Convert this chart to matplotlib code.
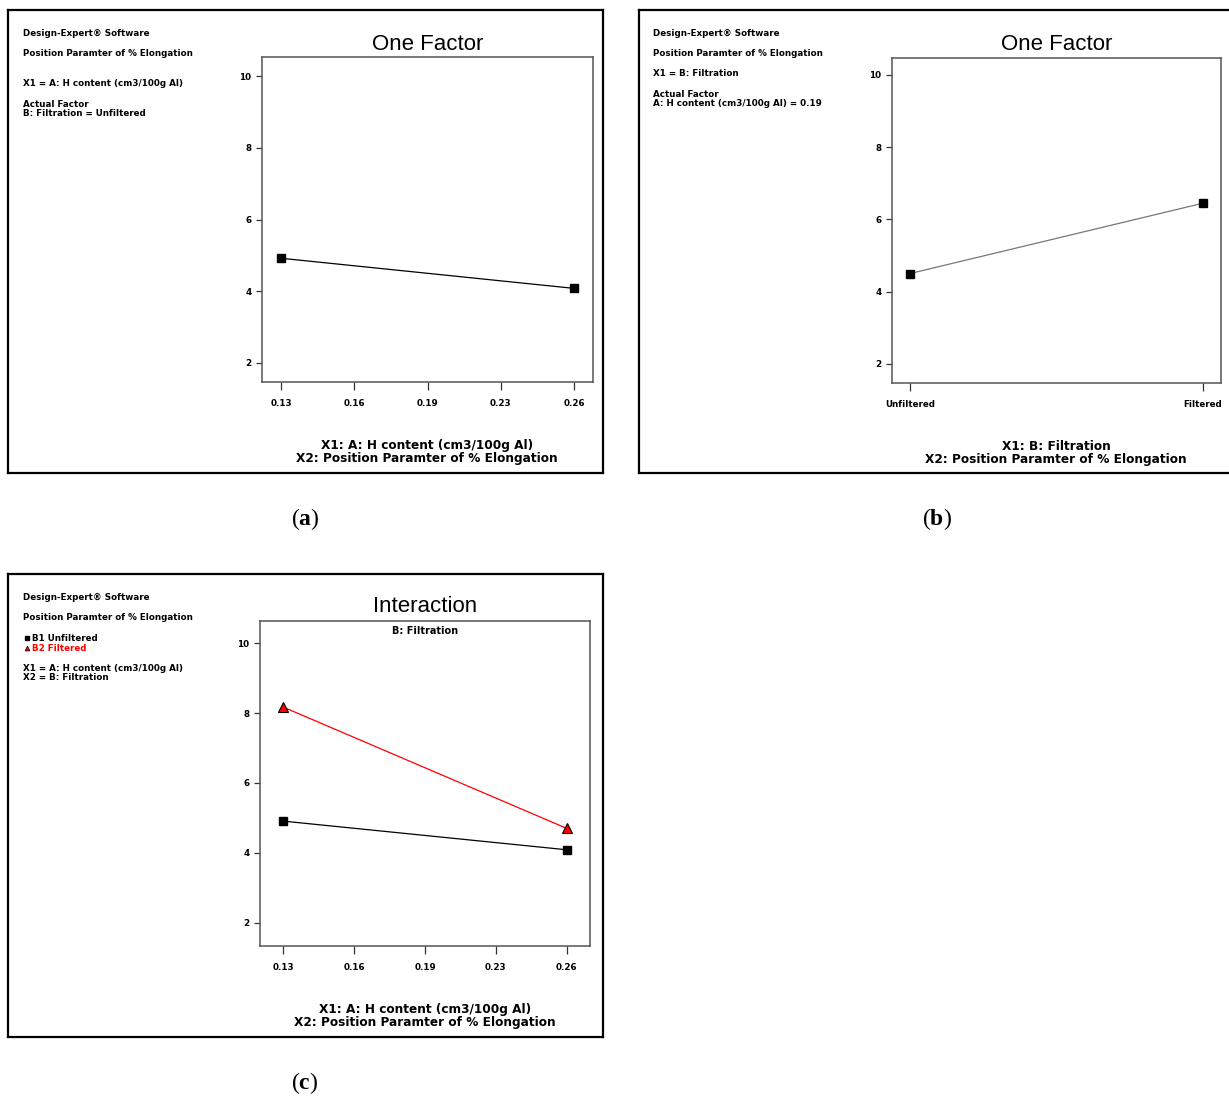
"""
Design-Expert style effect plots: one-factor plots for H content and
filtration, plus the interaction plot of the two factors.
"""

import matplotlib

matplotlib.use("Agg")
import matplotlib.pyplot as plt
import numpy as np
from matplotlib.lines import Line2D

plt.rcParams["font.family"] = ["Liberation Sans", "DejaVu Sans"]
plt.rcParams["mathtext.fontset"] = "custom"
plt.rcParams["mathtext.bf"] = "Liberation Serif:bold"
plt.rcParams["mathtext.rm"] = "Liberation Serif"

# data
h_ticks = [0.13, 0.1625, 0.195, 0.2275, 0.26]
h_tick_labels = ["0.13", "0.16", "0.19", "0.23", "0.26"]
h_levels = [0.13, 0.26]
filtration_levels = ["Unfiltered", "Filtered"]
y_ticks = [2, 4, 6, 8, 10]

elong_vs_h = [4.92, 4.08]            # panel (a), unfiltered
elong_vs_filtration = [4.50, 6.45]   # panel (b), H = 0.19
interaction_unfiltered = [4.91, 4.09]
interaction_filtered = [8.17, 4.70]

W, H = 1229, 1098
fig = plt.figure(figsize=(W / 100, H / 100), dpi=100)

# heavy, wide sans for the Design-Expert annotations
BOLD = dict(fontweight="bold", color="black", family="DejaVu Sans")
SPINE = "#555555"
SMALL = 6.3


def px_rect(x0, y0, x1, y1):
    return [x0 / W, 1 - y1 / H, (x1 - x0) / W, (y1 - y0) / H]


def fig_text(x, y, s, **kw):
    fig.text(x / W, 1 - y / H, s, va="center", **kw)


def frame(x0, y0, x1, y1):
    ax = fig.add_axes(px_rect(x0, y0, x1, y1), zorder=0)
    ax.set_xticks([])
    ax.set_yticks([])
    ax.set_facecolor("none")
    for sp in ax.spines.values():
        sp.set_linewidth(1.6)
        sp.set_color("black")
    return ax


def tick_font(labels):
    for lab in labels:
        lab.set_fontfamily("DejaVu Sans")
        lab.set_fontweight("bold")
        lab.set_fontsize(6.3)


def plot_axes(x0, y0, x1, y1, xlim, ylim, title, title_y):
    ax = fig.add_axes(px_rect(x0, y0, x1, y1), zorder=1)
    ax.set_xlim(*xlim)
    ax.set_ylim(*ylim)
    ax.set_yticks(y_ticks)
    ax.set_yticklabels([str(v) for v in y_ticks])
    tick_font(ax.get_yticklabels())
    ax.tick_params(axis="y", direction="out", length=4.5, width=0.9, pad=3, color="#333333")
    ax.tick_params(axis="x", direction="out", length=6, width=0.9, pad=6, color="#333333")
    for sp in ax.spines.values():
        sp.set_color(SPINE)
        sp.set_linewidth(1.1)
    fig_text((x0 + x1) / 2, title_y, title, ha="center", fontsize=16)
    return ax


# ---- panel (a) ----
frame(8, 10, 603, 473)
ax_a = plot_axes(262, 57, 593, 382, (0.1216, 0.2684), (1.47, 10.53), "One Factor", 44)
ax_a.set_xticks(h_ticks)
ax_a.set_xticklabels(h_tick_labels)
tick_font(ax_a.get_xticklabels())
ax_a.plot(h_levels, elong_vs_h, color="black", lw=0.9, marker="s", ms=6, mfc="black", mec="black")

fig_text(23, 33, "Design-Expert® Software", fontsize=SMALL, **BOLD)
fig_text(23, 54, "Position Paramter of % Elongation", fontsize=SMALL, **BOLD)
fig_text(23, 84, "X1 = A: H content (cm3/100g Al)", fontsize=SMALL, **BOLD)
fig_text(23, 109, "Actual Factor\nB: Filtration = Unfiltered", fontsize=SMALL, linespacing=1.0, **BOLD)
fig_text(427, 452, "X1: A: H content (cm3/100g Al)\nX2: Position Paramter of % Elongation",
         ha="center", fontsize=8.7, linespacing=1.0, **BOLD)
fig_text(305, 519, r"($\mathbf{a}$)", ha="center", fontsize=17, family="Liberation Serif")

# ---- panel (b) ----
frame(639, 10, 1232, 473)
ax_b = plot_axes(892, 58, 1221, 383, (-0.061, 1.061), (1.47, 10.47), "One Factor", 45)
x_b = np.arange(len(filtration_levels))
ax_b.set_xticks(x_b)
ax_b.set_xticklabels(filtration_levels)
tick_font(ax_b.get_xticklabels())
ax_b.plot(x_b, elong_vs_filtration, color="#777777", lw=0.9, marker="s", ms=6,
          mfc="black", mec="black")

fig_text(653, 33, "Design-Expert® Software", fontsize=SMALL, **BOLD)
fig_text(653, 54, "Position Paramter of % Elongation", fontsize=SMALL, **BOLD)
fig_text(653, 74, "X1 = B: Filtration", fontsize=SMALL, **BOLD)
fig_text(653, 99, "Actual Factor\nA: H content (cm3/100g Al) = 0.19", fontsize=SMALL,
         linespacing=1.0, **BOLD)
fig_text(1056, 453, "X1: B: Filtration\nX2: Position Paramter of % Elongation",
         ha="center", fontsize=8.7, linespacing=1.0, **BOLD)
fig_text(937, 519, r"($\mathbf{b}$)", ha="center", fontsize=17, family="Liberation Serif")

# ---- panel (c) ----
frame(8, 574, 603, 1037)
ax_c = plot_axes(260, 621, 590, 946, (0.1194, 0.2706), (1.34, 10.63), "Interaction", 607)
ax_c.set_xticks(h_ticks)
ax_c.set_xticklabels(h_tick_labels)
tick_font(ax_c.get_xticklabels())
ax_c.plot(h_levels, interaction_filtered, color="red", lw=0.9, marker="^", ms=7,
          mfc="red", mec="black", mew=0.8)
ax_c.plot(h_levels, interaction_unfiltered, color="black", lw=0.9, marker="s", ms=6,
          mfc="black", mec="black")
ax_c.text(0.5, 0.968, "B: Filtration", transform=ax_c.transAxes, ha="center", va="center",
          fontsize=7, **BOLD)

fig_text(23, 597, "Design-Expert® Software", fontsize=SMALL, **BOLD)
fig_text(23, 617, "Position Paramter of % Elongation", fontsize=SMALL, **BOLD)
handles = [
    Line2D([], [], ls="none", marker="s", ms=2.5, mfc="black", mec="black"),
    Line2D([], [], ls="none", marker="^", ms=3.5, mfc="red", mec="black", mew=0.5),
]
fig.legend(handles, ["B1 Unfiltered", "B2 Filtered"], loc="upper left",
           bbox_to_anchor=(20 / W, 1 - 630 / H), frameon=False,
           handlelength=0.6, handletextpad=0.3, labelspacing=0.05, borderpad=0,
           labelcolor=["black", "red"],
           prop={"weight": "bold", "size": SMALL, "family": "DejaVu Sans"})
fig_text(23, 673, "X1 = A: H content (cm3/100g Al)\nX2 = B: Filtration", fontsize=SMALL,
         linespacing=1.0, **BOLD)
fig_text(425, 1016, "X1: A: H content (cm3/100g Al)\nX2: Position Paramter of % Elongation",
         ha="center", fontsize=8.7, linespacing=1.0, **BOLD)
fig_text(305, 1083, r"($\mathbf{c}$)", ha="center", fontsize=17, family="Liberation Serif")

fig.savefig("out.png", dpi=100, facecolor="white")
